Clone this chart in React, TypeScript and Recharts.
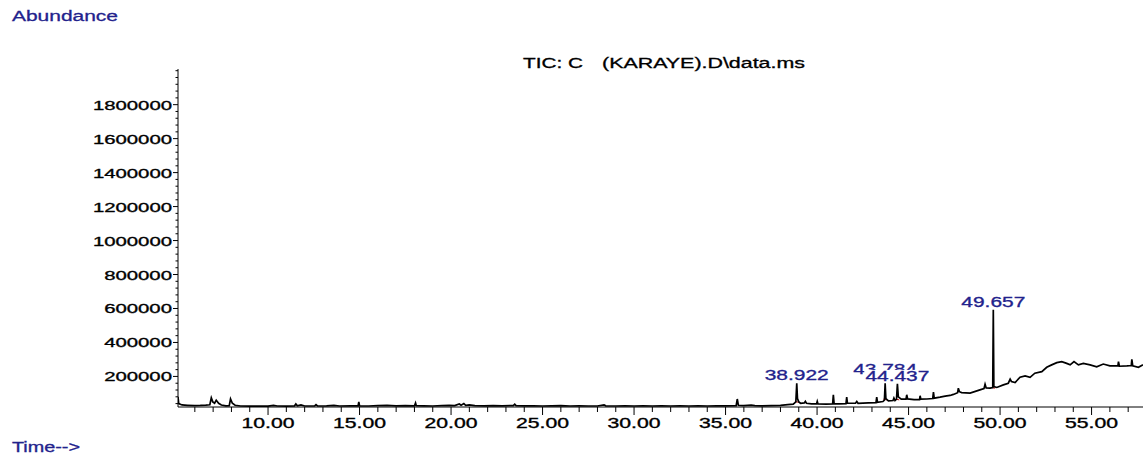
import React from "react";
import { LineChart, Line, XAxis, YAxis, ReferenceDot, ReferenceLine } from "recharts";

// ---- TIC trace as [time (min), abundance] ----
const earlyScan: [number, number][] = [
  [5.08, 80000], [5.12, 40000], [5.3, 32000], [5.6, 30000], [6.0, 28000], [6.3, 29000],
  [6.6, 31000], [6.82, 33000], [6.9, 74000], [6.98, 50000], [7.08, 42000], [7.17, 60000],
  [7.3, 42000], [7.45, 32000], [7.7, 27000], [7.88, 28000], [7.95, 68000], [8.05, 42000],
  [8.2, 30000], [8.5, 26000], [9.0, 25000], [9.5, 25000], [10.0, 25000], [10.3, 30000],
  [10.5, 26000], [11.0, 25000], [11.45, 27000], [11.52, 38000], [11.6, 27000], [11.8, 32000],
  [12.0, 26000], [12.55, 27000], [12.62, 34000], [12.7, 26000], [13.2, 27000], [13.6, 30000],
  [13.9, 26000], [14.5, 27000], [14.92, 27000], [14.96, 50000], [15.0, 27000], [15.5, 26000],
  [16.0, 28000], [16.5, 30000], [17.0, 27000], [17.5, 28000], [18.0, 27000], [18.06, 44000],
  [18.1, 28000], [18.5, 27000], [19.0, 26000], [19.5, 28000], [19.9, 30000], [20.2, 28000],
  [20.45, 38000], [20.55, 30000], [20.7, 40000], [20.8, 30000], [21.0, 33000], [21.3, 28000],
  [21.8, 27000], [22.3, 28000], [22.8, 27000], [23.4, 28000], [23.48, 36000], [23.55, 28000],
  [24.0, 27000], [24.5, 27000], [25.0, 26000], [25.5, 27000], [26.0, 28000], [26.5, 26000],
  [27.0, 27000], [27.5, 26000], [28.0, 26000], [28.36, 33000], [28.45, 27000], [29.0, 26000],
  [29.5, 27000], [30.0, 26000], [30.5, 27000], [31.0, 26000], [31.5, 27000], [32.0, 26000],
  [32.5, 27000], [33.0, 26000], [33.5, 27000], [34.0, 26000], [34.5, 27000], [35.0, 27000],
  [35.58, 28000], [35.64, 67000], [35.7, 30000], [36.0, 28000], [36.4, 31000], [36.6, 28000],
  [37.0, 27000], [37.5, 28000], [38.0, 30000], [38.4, 34000], [38.7, 37000],
];

const midScan: [number, number][] = [
  [38.84, 50000], [38.89, 160000], [38.93, 70000], [39.0, 50000], [39.1, 42000], [39.3, 44000],
  [39.36, 53000], [39.42, 42000], [39.7, 38000], [39.97, 38000], [40.01, 53000], [40.05, 38000],
  [40.5, 37000], [40.85, 38000], [40.89, 92000], [40.93, 40000], [41.2, 38000], [41.58, 40000],
  [41.62, 78000], [41.66, 42000], [42.1, 42000], [42.17, 53000], [42.24, 42000], [42.8, 44000],
  [43.22, 46000], [43.26, 78000], [43.3, 48000], [43.6, 52000], [43.68, 60000], [43.72, 160000],
  [43.76, 70000], [43.9, 56000], [44.15, 58000], [44.2, 73000], [44.26, 58000], [44.34, 66000],
  [44.39, 156000], [44.44, 80000], [44.6, 66000], [44.86, 66000], [44.9, 92000], [44.95, 68000],
  [45.3, 64000], [45.6, 64000], [45.63, 86000], [45.67, 66000], [46.0, 67000], [46.32, 70000],
  [46.36, 108000], [46.4, 72000], [46.72, 78000], [47.0, 84000],
];

const lateScan: [number, number][] = [
  [47.27, 88000], [47.45, 94000], [47.68, 104000], [47.72, 131000], [47.78, 110000], [47.9, 105000],
  [48.36, 102000], [48.9, 121000], [49.12, 128000], [49.18, 154000], [49.24, 132000], [49.45, 131000],
  [49.6, 135000], [49.63, 593000], [49.66, 140000], [49.82, 135000], [50.18, 150000], [50.45, 160000],
  [50.55, 184000], [50.62, 170000], [50.82, 164000], [51.09, 195000], [51.37, 203000], [51.64, 195000],
  [51.9, 219000], [52.28, 228000], [52.55, 254000], [52.82, 268000], [53.1, 281000], [53.37, 287000],
  [53.64, 277000], [53.83, 268000], [54.04, 287000], [54.28, 268000], [54.55, 277000], [54.92, 268000],
  [55.28, 257000], [55.64, 273000], [56.0, 262000], [56.44, 262000], [56.47, 287000], [56.52, 260000],
  [56.93, 262000], [57.17, 264000], [57.2, 301000], [57.25, 262000], [57.56, 254000], [57.81, 268000],
];

// labelled peaks
const peakTimes = [38.89, 43.72, 44.39, 49.63];
const peakTops = [160000, 160000, 156000, 593000];
const peakBases = [52000, 66000, 66000, 135000];
const peakLabels = ["38.922", "43.784", "44.437", "49.657"];

// axis ticks
const xLabelTicks = [10, 15, 20, 25, 30, 35, 40, 45, 50, 55];
const xMinorTicks = [6, 7, 8, 9, 11, 12, 13, 14, 16, 17, 18, 19, 21, 22, 23, 24, 26, 27, 28, 29,
  31, 32, 33, 34, 36, 37, 38, 39, 41, 42, 43, 44, 46, 47, 48, 49, 51, 52, 53, 54, 56, 57];
const yLabelTicks = [200000, 400000, 600000, 800000, 1000000, 1200000, 1400000, 1600000, 1800000];

const FONT = "'Liberation Sans', Arial, sans-serif";
const BLUE = "#22228c";

const data = [...earlyScan, ...midScan, ...lateScan].map(([t, v]) => ({ t, v }));
const xTicks = [...xLabelTicks, ...xMinorTicks].sort((a, b) => a - b);
const yTicks: number[] = [];
for (let v = 40000; v <= 2000000; v += 40000) yTicks.push(v);

const XTick = (props: any) => {
  const { x, y, payload } = props;
  const major = payload.value % 5 === 0;
  return (
    <g>
      <line x1={x} x2={x} y1={y} y2={y + (major ? 8 : 5)} stroke="#000" />
      {major && (
        <text x={x} y={y + 21} textAnchor="middle" fontSize={14.5} fontFamily={FONT}
          textLength={53} lengthAdjust="spacingAndGlyphs" fill="#000" stroke="#000" strokeWidth={0.35}>
          {payload.value.toFixed(2)}
        </text>
      )}
    </g>
  );
};

const YTick = (props: any) => {
  const { x, y, payload } = props;
  const major = yLabelTicks.includes(payload.value);
  const label = String(payload.value);
  return (
    <g>
      <line x1={x - (major ? 5 : 2.5)} x2={x} y1={y} y2={y} stroke="#000" />
      {major && (
        <text x={x - 6} y={y + 5} textAnchor="end" fontSize={13.5} fontFamily={FONT}
          textLength={label.length * 11.3} lengthAdjust="spacingAndGlyphs" fill="#000"
          stroke="#000" strokeWidth={0.35}>
          {label}
        </text>
      )}
    </g>
  );
};

const peakShape = (label: string, lift: number, boxed: boolean) => (props: any) => {
  const { cx, cy } = props;
  return (
    <g>
      {boxed && <rect x={cx - 33} y={cy - lift - 11} width={66} height={12} fill="#fff" />}
      <text x={cx} y={cy - lift} textAnchor="middle" fontSize={14} fontFamily={FONT}
        textLength={64} lengthAdjust="spacingAndGlyphs" fill={BLUE} stroke={BLUE} strokeWidth={0.3}>
        {label}
      </text>
    </g>
  );
};

export default function App() {
  return (
    <div style={{ position: "absolute", left: 0, top: 0, width: 1143, height: 460, background: "#fff" }}>
      <LineChart width={1143} height={460} data={data}
        margin={{ top: 69, right: 0, bottom: 23, left: 78 }}>
        <XAxis dataKey="t" type="number" domain={[5.08, 57.81]} allowDataOverflow
          ticks={xTicks} interval={0} tick={<XTick />} tickLine={false} tickSize={0} tickMargin={0}
          axisLine={{ stroke: "#000" }} height={30} />
        <YAxis type="number" domain={[20000, 2010000]} allowDataOverflow
          ticks={yTicks} interval={0} tick={<YTick />} tickLine={false} tickSize={0} tickMargin={0}
          axisLine={{ stroke: "#000" }} width={100} />
        {peakTimes.map((t, i) => (
          <ReferenceLine key={"b" + i} stroke="#c00000" strokeWidth={1}
            segment={[{ x: t - 0.1, y: peakBases[i] }, { x: t + 0.1, y: peakBases[i] - 4000 }]} />
        ))}
        <Line type="linear" dataKey="v" stroke="#000" strokeWidth={1.7} dot={false}
          isAnimationActive={false} />
        {peakTimes.map((t, i) => (
          <ReferenceDot key={"p" + i} x={t} y={peakTops[i]} r={0}
            shape={peakShape(peakLabels[i], i === 1 ? 9 : 3, i === 2)} />
        ))}
      </LineChart>
      <svg width={1143} height={460} style={{ position: "absolute", left: 0, top: 0, pointerEvents: "none" }}>
        <text x={12} y={20.5} fontSize={15.5} fontFamily={FONT} fill={BLUE} stroke={BLUE} strokeWidth={0.3}
          textLength={106} lengthAdjust="spacingAndGlyphs">Abundance</text>
        <text x={523} y={68} fontSize={14} fontFamily={FONT} fill="#000" stroke="#000" strokeWidth={0.3}
          textLength={60} lengthAdjust="spacingAndGlyphs">TIC: C</text>
        <text x={602} y={68} fontSize={14} fontFamily={FONT} fill="#000" stroke="#000" strokeWidth={0.3}
          textLength={203} lengthAdjust="spacingAndGlyphs">(KARAYE).D\data.ms</text>
        <text x={12} y={452} fontSize={14} fontFamily={FONT} fill={BLUE} stroke={BLUE} strokeWidth={0.3}
          textLength={68} lengthAdjust="spacingAndGlyphs">Time--&gt;</text>
      </svg>
    </div>
  );
}
